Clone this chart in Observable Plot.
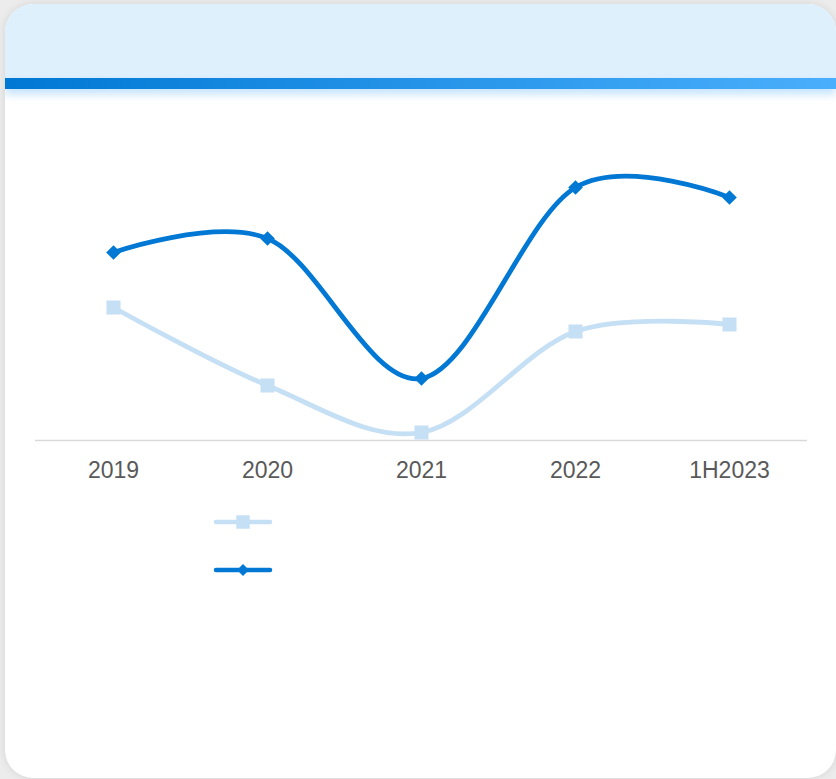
<!DOCTYPE html>
<html>
<head>
<meta charset="utf-8">
<script src="https://cdn.jsdelivr.net/npm/d3@7"></script>
<script src="https://cdn.jsdelivr.net/npm/@observablehq/plot@0.6"></script>
<style>
  html, body { margin: 0; padding: 0; }
  body { width: 836px; height: 779px; background: #ececec; position: relative; overflow: hidden; font-family: "Liberation Sans", Arial, sans-serif; }
  #card { position: absolute; left: 5px; top: 4px; width: 831px; height: 774px; background: #fff; border-radius: 28px; overflow: hidden; box-shadow: 0 0 8px rgba(0,0,0,0.10); }
  #head { position: absolute; left: 0; top: 0; width: 100%; height: 74px; background: #dff0fd; }
  #bar { position: absolute; left: 0; top: 74px; width: 100%; height: 11px; background: linear-gradient(to right, #0078d4, #4aaffc); box-shadow: 0 5px 9px rgba(74,170,250,0.35); }
  #chart { position: absolute; left: 0; top: 100px; }
  #legend { position: absolute; left: 0; top: 500px; }
</style>
</head>
<body>
<div id="card"><div id="head"></div><div id="bar"></div></div>
<div id="chart"></div>
<div id="legend"></div>
<script>
const categories = ["2019", "2020", "2021", "2022", "1H2023"];
const seriesNames = ["A", "B"];
const lightValues = [133, 55, 8, 109, 116];
const darkValues = [188, 202, 62, 253, 243];
const colors = ["#c5dff5", "#0078d4"];

const rows = [];
categories.forEach((c, i) => {
  rows.push({cat: c, s: seriesNames[0], v: lightValues[i]});
  rows.push({cat: c, s: seriesNames[1], v: darkValues[i]});
});
const light = rows.filter(d => d.s === seriesNames[0]);
const dark = rows.filter(d => d.s === seriesNames[1]);

const plot = Plot.plot({
  width: 836,
  height: 400,
  marginLeft: 35,
  marginRight: 29,
  marginTop: 40,
  marginBottom: 60,
  style: {background: "transparent", fontFamily: "Liberation Sans, Arial, sans-serif"},
  x: {type: "point", domain: categories, padding: 0.5, label: null},
  y: {domain: [0, 300], axis: null},
  marks: [
    Plot.ruleY([0], {stroke: "#d9d9d9", strokeWidth: 1.5}),
    Plot.axisX({tickSize: 0, tickPadding: 21, fontSize: 23, color: "#595959", fill: "#595959", label: null}),
    Plot.line(light, {x: "cat", y: "v", curve: "cardinal", stroke: colors[0], strokeWidth: 4.8}),
    Plot.dot(light, {x: "cat", y: "v", symbol: "square", r: 7.9, fill: colors[0], stroke: "none"}),
    Plot.line(dark, {x: "cat", y: "v", curve: "cardinal", stroke: colors[1], strokeWidth: 4.8}),
    Plot.dot(dark, {x: "cat", y: "v", symbol: "diamond2", r: 6.6, fill: colors[1], stroke: "none"})
  ]
});
document.getElementById("chart").appendChild(plot);

// legend (line + marker swatches; labels empty as in the reference)
const lg = d3.select("#legend").append("svg").attr("width", 836).attr("height", 100);
const items = lg.selectAll("g").data(seriesNames).join("g")
  .attr("transform", (d, i) => `translate(243, ${22 + i * 48})`);
items.append("line").attr("x1", -27).attr("x2", 27).attr("y1", 0).attr("y2", 0)
  .attr("stroke", (d, i) => colors[i]).attr("stroke-width", 4.5).attr("stroke-linecap", "round");
items.append("path")
  .attr("d", (d, i) => d3.symbol(i === 0 ? d3.symbolSquare : d3.symbolDiamond2, i === 0 ? 180 : 90)())
  .attr("fill", (d, i) => colors[i]);
</script>
</body>
</html>
